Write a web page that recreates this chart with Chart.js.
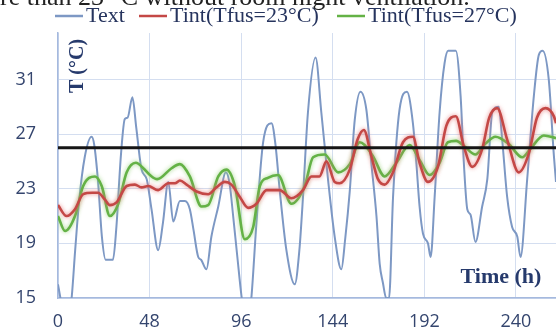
<!DOCTYPE html>
<html>
<head>
<meta charset="utf-8">
<script src="https://cdn.jsdelivr.net/npm/chart.js@4.4.0/dist/chart.umd.min.js"></script>
<style>
  html, body { margin: 0; padding: 0; background: #fff; }
  #wrap { position: relative; width: 556px; height: 332px; }
</style>
</head>
<body>
<div id="wrap"><canvas id="myChart"></canvas></div>
<script>
// data block
const xTicks = [0, 48, 96, 144, 192, 240];
const yTicks = [15, 19, 23, 27, 31];
const seriesNames = ["Text", "Tint(Tfus=23°C)", "Tint(Tfus=27°C)"];

const textHours = [0, 1, 3, 5, 7, 9, 11, 14, 17.6, 19, 21, 23, 25, 28.8, 30.5, 33, 35, 36.5, 39, 41,
  43.8, 46.5, 49, 52.5, 55, 57.8, 60.4, 63.9, 66.5, 69.1, 71, 73.5, 75, 77.8, 80.4, 84, 88, 90, 91.8, 94,
  96.2, 98, 100, 101.4, 104, 107.5, 111.9, 114, 116.2, 119.7, 124.1, 126.5, 128.4, 131, 135, 138, 141.5, 145, 148.5, 150.5,
  152.9, 155.5, 158.5, 161.6, 164.2, 166.9, 168.6, 170.3, 172, 173.5, 175.6, 179, 182.9, 186, 187.8, 189.5, 191.3, 193.9, 195.3, 197.4,
  200, 202.6, 204.5, 208.5, 211, 212.7, 214.5, 216.2, 218.8, 222.3, 225, 227.6, 231, 232.8, 235.4, 238, 240.7, 242.4, 245.9, 249.4,
  252, 254, 257.2, 259.9, 261];
const textValues = [16.0, 15.2, 13.8, 13.5, 14.8, 18.5, 22.0, 25.3, 26.8, 26.2, 23.5, 19.5, 17.8, 17.8, 20.0, 25.5, 28.1, 28.2, 29.7, 27.5,
  24.4, 23.7, 21.5, 18.5, 20.5, 23.5, 20.6, 22.1, 22.1, 21.5, 20.0, 18.0, 17.8, 17.1, 19.5, 21.7, 24.2, 23.3, 21.0, 18.0,
  15.1, 13.5, 13.5, 15.1, 20.5, 26.4, 27.8, 26.2, 22.9, 18.5, 16.0, 18.5, 22.4, 28.6, 32.6, 28.6, 23.7, 19.5, 17.1, 19.3,
  22.8, 28.0, 30.1, 28.8, 24.9, 21.0, 17.5, 16.1, 15.0, 15.0, 22.4, 28.8, 30.1, 27.8, 24.9, 21.7, 19.7, 19.0, 18.0, 22.4,
  28.6, 32.2, 33.1, 33.1, 29.8, 24.9, 21.5, 21.1, 19.1, 21.7, 23.7, 28.6, 29.0, 26.6, 22.4, 20.2, 19.5, 18.0, 23.7, 29.8,
  32.8, 33.1, 31.0, 25.4, 23.5];

const int23Hours = [0, 4.5, 8.9, 13.2, 18, 21, 24.6, 27.2, 30.7, 36, 40.3, 43.8, 47.3, 52.5, 57.8, 61.3, 63.9, 67.4, 72.6, 78.7,
  83, 87.4, 90.9, 95.3, 99.6, 104, 109.3, 116.2, 122.3, 128.4, 132.8, 137, 140.7, 145, 147.6, 152.9, 157, 160.3, 164.2, 167.7,
  171.2, 175.6, 180.8, 186, 189.5, 193.9, 199.1, 203.5, 208.5, 212.7, 217.1, 222.3, 226, 230.2, 235.4, 241.5, 246.8, 251, 255.5, 259.9, 261];
const int23Values = [21.8, 21.0, 21.5, 22.6, 22.7, 22.7, 22.2, 21.8, 22.0, 23.2, 23.3, 23.1, 23.2, 22.9, 23.4, 23.4, 23.6, 23.3, 22.8, 22.6,
  23.1, 23.5, 23.3, 22.4, 21.6, 21.9, 22.9, 22.9, 22.3, 22.9, 23.9, 23.9, 25.0, 23.5, 23.4, 24.4, 26.6, 27.3, 25.4, 23.7,
  23.3, 24.2, 26.4, 26.8, 24.9, 23.5, 24.6, 27.6, 28.3, 26.1, 24.6, 25.9, 28.2, 28.9, 26.6, 24.2, 25.6, 28.2, 28.9, 28.3, 27.8];

const int27Hours = [0, 3.7, 8.9, 13.2, 19.4, 22.9, 27.2, 31.6, 36, 40.8, 44.7, 48.2, 52, 59.5, 63.9, 69.1, 75.2, 78.7, 84, 88.3,
  92.7, 97.9, 102.3, 105.8, 110, 115.3, 122.3, 129.3, 133.7, 139.8, 146.8, 152.9, 158.1, 160.7, 165, 171.2, 177.3, 184.3, 189.5, 194.8,
  200, 204.3, 208.7, 213, 218.8, 224, 229.3, 236, 243.3, 248, 254.6, 261];
const int27Values = [21.0, 19.9, 21.0, 23.2, 23.9, 23.2, 21.0, 21.9, 24.2, 24.9, 24.5, 24.0, 23.7, 24.5, 24.8, 23.9, 21.7, 21.8, 23.9, 24.4,
  23.2, 19.3, 20.2, 23.2, 23.8, 24.0, 21.9, 23.2, 25.3, 25.5, 24.2, 24.8, 26.4, 26.2, 25.4, 23.9, 24.9, 26.2, 25.1, 24.0,
  24.9, 26.4, 26.5, 26.1, 25.5, 26.3, 26.8, 26.3, 25.3, 26.0, 26.9, 26.7];

const comfortLimit = 26;
const xMin = 0, xMax = 261;
const yMin = 15, yMax = 34.4;

const toPoints = (xs, ys) => xs.map((x, i) => ({ x: x, y: ys[i] }));

// glow under the indoor curves
const glowPlugin = {
  id: "glow",
  beforeDatasetDraw(chart, args) {
    const ds = chart.data.datasets[args.index];
    if (!ds.glow) return;
    chart.ctx.save();
    chart.ctx.shadowColor = ds.glow;
    chart.ctx.shadowBlur = 4;
  },
  afterDatasetDraw(chart, args) {
    const ds = chart.data.datasets[args.index];
    if (ds.glow) chart.ctx.restore();
  },
};

// legend, axis titles, cropped caption line
const textPlugin = {
  id: "texts",
  afterDraw(chart) {
    const ctx = chart.ctx;
    ctx.save();
    // caption line cut off at the top
    ctx.fillStyle = "#222";
    ctx.font = "26px 'Liberation Serif'";
    ctx.textBaseline = "alphabetic";
    ctx.fillText("re than 23 °C without room night ventilation.", 0, 5);

    // legend
    const starts = [55, 139, 337];
    ctx.font = "22px 'Liberation Serif'";
    ctx.textBaseline = "middle";
    for (let i = 0; i < 3; i++) {
      const ds = chart.data.datasets[i];
      ctx.strokeStyle = ds.borderColor;
      ctx.lineWidth = 2.5;
      ctx.beginPath();
      ctx.moveTo(starts[i], 16);
      ctx.lineTo(starts[i] + 28, 16);
      ctx.stroke();
      ctx.fillStyle = "#26345e";
      ctx.fillText(seriesNames[i], starts[i] + 31, 16);
    }

    // axis titles
    ctx.fillStyle = "#263a6c";
    ctx.font = "bold 20px 'Liberation Serif'";
    ctx.textAlign = "center";
    ctx.save();
    ctx.translate(78, 66);
    ctx.rotate(-Math.PI / 2);
    ctx.fillText("T (°C)", 0, 0);
    ctx.restore();
    ctx.font = "bold 22px 'Liberation Serif'";
    ctx.fillText("Time (h)", 501, 277);
    ctx.restore();
  },
};

const data = {
  datasets: [
    {
      label: seriesNames[0],
      data: toPoints(textHours, textValues),
      borderColor: "rgb(125,152,196)",
      borderWidth: 2,
      cubicInterpolationMode: "monotone",
      pointRadius: 0,
      order: 3,
    },
    {
      label: seriesNames[1],
      data: toPoints(int23Hours, int23Values),
      borderColor: "rgb(196,72,70)",
      borderWidth: 2.6,
      glow: "rgba(230,120,120,0.9)",
      cubicInterpolationMode: "monotone",
      pointRadius: 0,
      order: 1,
    },
    {
      label: seriesNames[2],
      data: toPoints(int27Hours, int27Values),
      borderColor: "rgb(100,178,70)",
      borderWidth: 2.6,
      glow: "rgba(150,210,120,0.9)",
      cubicInterpolationMode: "monotone",
      pointRadius: 0,
      order: 2,
    },
    {
      label: "limit",
      data: [{ x: xMin, y: comfortLimit }, { x: xMax, y: comfortLimit }],
      borderColor: "#151515",
      borderWidth: 3,
      pointRadius: 0,
      order: 0,
    },
  ],
};

const tickFont = { family: "'Open Sans'", size: 18 };

const config = {
  type: "line",
  data: data,
  options: {
    responsive: true,
    maintainAspectRatio: false,
    animation: false,
    layout: { padding: { top: 33, left: 0, right: 0, bottom: 0 } },
    plugins: { legend: { display: false }, tooltip: { enabled: false } },
    scales: {
      x: {
        type: "linear",
        min: xMin,
        max: xMax,
        afterBuildTicks: (s) => { s.ticks = xTicks.map((v) => ({ value: v })); },
        afterFit: (s) => { s.height = 34; },
        ticks: { color: "#34456e", font: tickFont, padding: 13, maxRotation: 0 },
        grid: { color: "rgb(212,222,240)", drawTicks: false },
        border: { color: "rgb(165,185,222)", width: 1.5 },
      },
      y: {
        min: yMin,
        max: yMax,
        afterBuildTicks: (s) => { s.ticks = yTicks.map((v) => ({ value: v })); },
        afterFit: (s) => { s.width = 58; },
        ticks: { color: "#34456e", font: tickFont, padding: 22 },
        grid: { color: "rgb(212,222,240)", drawTicks: false },
        border: { color: "rgb(165,185,222)", width: 1.5 },
      },
    },
  },
  plugins: [glowPlugin, textPlugin],
};

// render init block
const myChart = new Chart(document.getElementById("myChart"), config);
</script>
</body>
</html>
